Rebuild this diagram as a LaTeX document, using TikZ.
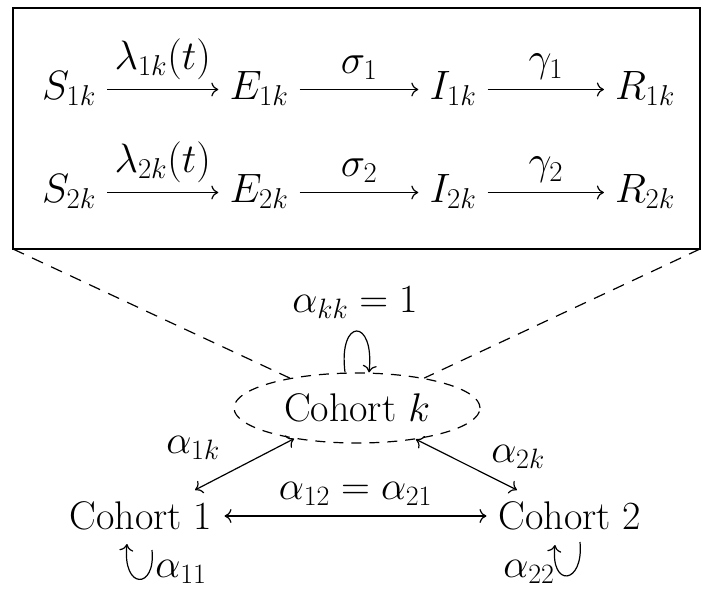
\documentclass[tikz,border=0pt]{standalone}
\usepackage{fix-cm}
\usetikzlibrary{shapes.geometric,arrows.meta}
\begin{document}
\begin{tikzpicture}[x=1pt,y=-1pt,
  every node/.style={font=\fontsize{40}{48}\selectfont, inner sep=12pt},
  big/.style={font=\fontsize{41}{49}\selectfont, inner sep=11pt},
  free/.style={inner sep=1pt},
  tip/.tip={Computer Modern Rightarrow[length=7pt,width=14pt]},
  conn/.style={-tip, line width=1.2pt},
  dconn/.style={tip-tip, line width=1.2pt},
  frame/.style={line width=1.5pt},
  guide/.style={dashed, dash pattern=on 12pt off 9pt, line width=1.2pt},
  cohortk/.style={draw, ellipse, dashed, dash pattern=on 10pt off 8pt, line width=1.2pt,
                  minimum width=246pt, minimum height=70pt, inner sep=0pt},
  lab/.style={above, inner sep=10pt},
  toplab/.style={above, inner sep=9pt, font=\fontsize{41}{49}\selectfont}]
\useasboundingbox (0,0) rectangle (701,592);

% ---- upper box ----
\draw[frame] (13,8) rectangle (700,249);
\coordinate (BL) at (13,249);
\coordinate (BR) at (700,249);

\node[big, anchor=base] (S1) at (69,99) {$S_{1k}$};
\node[big, anchor=base] (E1) at (259,99) {$E_{1k}$};
\node[big, anchor=base] (I1) at (453,99) {$I_{1k}$};
\node[big, anchor=base] (R1) at (645,99) {$R_{1k}$};
\node[big, anchor=base] (S2) at (69,202) {$S_{2k}$};
\node[big, anchor=base] (E2) at (259,202) {$E_{2k}$};
\node[big, anchor=base] (I2) at (453,202) {$I_{2k}$};
\node[big, anchor=base] (R2) at (645,202) {$R_{2k}$};

\draw[conn] ([yshift=9.5pt]S1.base east) -- node[toplab]{$\lambda_{1k}(t)$} ([yshift=9.5pt]E1.base west);
\draw[conn] ([yshift=9.5pt]E1.base east) -- node[toplab]{$\sigma_1$} ([yshift=9.5pt]I1.base west);
\draw[conn] ([yshift=9.5pt]I1.base east) -- node[toplab]{$\gamma_1$} ([yshift=9.5pt]R1.base west);
\draw[conn] ([yshift=9.5pt]S2.base east) -- node[toplab]{$\lambda_{2k}(t)$} ([yshift=9.5pt]E2.base west);
\draw[conn] ([yshift=9.5pt]E2.base east) -- node[toplab]{$\sigma_2$} ([yshift=9.5pt]I2.base west);
\draw[conn] ([yshift=9.5pt]I2.base east) -- node[toplab]{$\gamma_2$} ([yshift=9.5pt]R2.base west);

% ---- lower graph ----
\node[cohortk] (CK) at (357,408) {Cohort $k$};
\node (C1) at (141,516) {Cohort 1};
\node (C2) at (570,516) {Cohort 2};

\draw[guide] (BL) -- (CK.156);
\draw[guide] (BR) -- (CK.24);

\node[free] (akk) at (355,303) {$\alpha_{kk}=1$};
\draw[conn] ([xshift=-12pt]CK.north) .. controls +(-7,-55) and +(6,-55) .. ([xshift=12pt]CK.north);

\draw[dconn] ([xshift=54pt,yshift=26pt]C1.center) -- (CK.206);
\draw[dconn] (CK.332) -- ([xshift=-53pt,yshift=26pt]C2.center);
\draw[dconn] (C1) -- node[lab]{$\alpha_{12}=\alpha_{21}$} (C2);

\node[free] (a1k) at (193,448) {$\alpha_{1k}$};
\node[free] (a2k) at (518,457) {$\alpha_{2k}$};

\draw[conn] ([xshift=11pt,yshift=-34pt]C1.center) .. controls +(4,40) and +(-5,46) .. ([xshift=-14pt,yshift=-28pt]C1.center);
\node[free] (a11) at (181,572) {$\alpha_{11}$};
\draw[conn] ([xshift=10pt,yshift=-26pt]C2.center) .. controls +(4,43) and +(-5,43) .. ([xshift=-15pt,yshift=-29pt]C2.center);
\node[free] (a22) at (529,572) {$\alpha_{22}$};
\end{tikzpicture}
\end{document}
